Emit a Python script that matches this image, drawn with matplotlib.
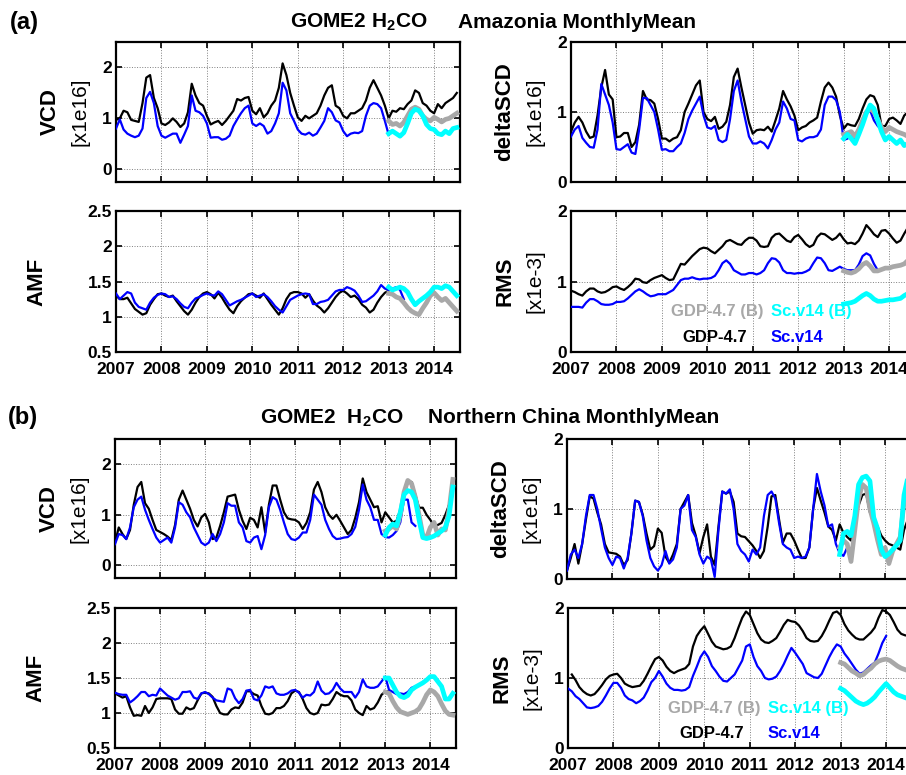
"""GOME2 H2CO monthly means, Amazonia and Northern China: GDP-4.7 vs Sc.v14."""
import numpy as np
import matplotlib; matplotlib.use('Agg')
import matplotlib.pyplot as plt
from matplotlib.ticker import FormatStrFormatter

plt.rcParams['font.family'] = ['Liberation Sans', 'DejaVu Sans']
plt.rcParams['font.weight'] = 'bold'
plt.rcParams['mathtext.fontset'] = 'custom'
plt.rcParams['mathtext.rm'] = 'Liberation Sans'
plt.rcParams['mathtext.bf'] = 'Liberation Sans:bold'

years = list(range(2007, 2015))
B0 = 72  # (B) series start in Jan 2013

# ---------------- (a) Amazonia ----------------
a_vcd_gdp = [0.97, 1.0, 1.15, 1.12, 0.97, 0.95, 0.93, 1.3, 1.8, 1.85,
             1.4, 1.2, 0.9, 0.87, 0.92, 1.0, 0.93, 0.83, 0.9, 1.12,
             1.68, 1.45, 1.3, 1.25, 1.05, 0.88, 0.92, 0.95, 0.87, 0.95,
             1.05, 1.15, 1.38, 1.35, 1.4, 1.42, 1.15, 1.08, 1.2, 1.02,
             1.1, 1.25, 1.35, 1.6, 2.08, 1.85, 1.5, 1.25, 1.02, 0.95,
             1.05, 1.0, 1.05, 1.1, 1.25, 1.45, 1.6, 1.65, 1.25, 1.2,
             1.05, 1.0, 1.1, 1.1, 1.15, 1.2, 1.35, 1.6, 1.75, 1.6,
             1.45, 1.25, 1.0, 1.15, 1.13, 1.2, 1.18, 1.28, 1.35, 1.55,
             1.5, 1.3, 1.25, 1.15, 1.1, 1.28, 1.2, 1.3, 1.35, 1.4, 1.5]
a_vcd_sc = [0.8, 0.98, 0.78, 0.7, 0.66, 0.63, 0.66, 0.8, 1.4, 1.52,
            1.3, 0.85, 0.66, 0.62, 0.66, 0.7, 0.7, 0.52, 0.68, 0.85,
            1.45, 1.15, 1.12, 1.05, 0.9, 0.62, 0.63, 0.63, 0.58, 0.6,
            0.66, 0.85, 0.98, 1.1, 1.2, 1.25, 0.9, 0.85, 0.9, 0.85,
            0.7, 0.75, 0.9, 1.1, 1.7, 1.55, 1.1, 0.95, 0.78, 0.7,
            0.68, 0.72, 0.66, 0.7, 0.82, 0.95, 1.2, 1.12, 0.96, 0.92,
            0.75, 0.65, 0.7, 0.72, 0.71, 0.75, 1.05, 1.25, 1.3, 1.28,
            1.2, 0.95, 0.68]
a_vcd_gdp_b = [0.95, 0.88, 0.9, 0.85, 0.92, 1.05, 1.18, 1.22, 1.18, 1.05,
               0.98, 0.95, 1.02, 0.98, 0.93, 0.98, 1.0, 1.05, 1.1]
a_vcd_sc_b = [0.7, 0.75, 0.7, 0.65, 0.72, 0.9, 1.1, 1.18, 1.15, 1.05,
              0.88, 0.8, 0.78, 0.7, 0.68, 0.75, 0.7, 0.8, 0.82]

a_dscd_gdp = [0.72, 0.85, 0.93, 0.85, 0.72, 0.63, 0.65, 0.95, 1.35, 1.6,
              1.25, 1.18, 0.64, 0.65, 0.7, 0.7, 0.5, 0.57, 0.82, 1.3,
              1.18, 1.17, 1.12, 0.9, 0.62, 0.62, 0.58, 0.62, 0.64, 0.74,
              1.0, 1.12, 1.25, 1.38, 1.45, 1.0, 0.9, 0.87, 0.93, 0.76,
              0.79, 0.86, 1.1, 1.5, 1.62, 1.35, 1.1, 0.85, 0.69, 0.74,
              0.75, 0.74, 0.79, 0.72, 0.88, 1.05, 1.3, 1.18, 1.08, 0.95,
              0.74, 0.78, 0.8, 0.85, 0.88, 0.92, 1.15, 1.35, 1.42, 1.35,
              1.22, 0.95, 0.76, 0.83, 0.81, 0.8, 0.9, 1.05, 1.18, 1.24,
              1.22, 1.1, 0.8, 0.8, 0.9, 0.92, 0.88, 0.83, 0.95, 1.0, 0.95]
a_dscd_sc = [0.65, 0.75, 0.8, 0.63, 0.56, 0.5, 0.49, 0.75, 1.4, 1.25,
             1.1, 0.85, 0.47, 0.46, 0.5, 0.54, 0.42, 0.4, 0.75, 1.2,
             1.2, 1.1, 1.0, 0.75, 0.46, 0.47, 0.44, 0.44, 0.5, 0.55,
             0.7, 0.9, 1.02, 1.12, 1.22, 0.95, 0.78, 0.76, 0.8, 0.6,
             0.57, 0.6, 0.9, 1.3, 1.45, 1.15, 0.9, 0.65, 0.55, 0.55,
             0.58, 0.55, 0.48, 0.6, 0.75, 0.85, 1.15, 1.05, 0.9, 0.88,
             0.6, 0.58, 0.62, 0.64, 0.64, 0.66, 0.75, 1.1, 1.22, 1.22,
             1.17, 1.0, 0.6, 0.62, 0.65, 0.6, 0.72, 0.85, 0.98, 1.02,
             0.88, 0.8]
a_dscd_gdp_b = [0.68, 0.7, 0.72, 0.65, 0.75, 0.88, 1.0, 1.05, 1.0, 0.9,
                0.78, 0.72, 0.78, 0.75, 0.72, 0.7, 0.68, 0.65, 0.62]
a_dscd_sc_b = [0.62, 0.68, 0.62, 0.55, 0.68, 0.82, 0.98, 1.1, 1.05, 0.88,
               0.72, 0.6, 0.65, 0.6, 0.55, 0.6, 0.52, 0.55, 0.55]

a_amf_gdp = [1.3, 1.25, 1.25, 1.27, 1.19, 1.11, 1.07, 1.03, 1.05, 1.17,
             1.25, 1.32, 1.33, 1.3, 1.28, 1.3, 1.22, 1.15, 1.08, 1.03,
             1.1, 1.2, 1.28, 1.33, 1.35, 1.32, 1.26, 1.34, 1.27, 1.18,
             1.1, 1.05, 1.15, 1.22, 1.27, 1.32, 1.33, 1.3, 1.27, 1.33,
             1.25, 1.17, 1.1, 1.03, 1.12, 1.25, 1.33, 1.35, 1.35, 1.33,
             1.27, 1.32, 1.23, 1.16, 1.12, 1.06, 1.12, 1.2, 1.28, 1.34,
             1.37, 1.33, 1.28, 1.3, 1.25, 1.17, 1.13, 1.06, 1.1, 1.2,
             1.28, 1.34, 1.37]
a_amf_sc = [1.33, 1.25, 1.3, 1.35, 1.33, 1.2, 1.14, 1.12, 1.1, 1.2,
            1.27, 1.31, 1.33, 1.32, 1.28, 1.29, 1.25, 1.19, 1.14, 1.12,
            1.2, 1.26, 1.28, 1.31, 1.33, 1.31, 1.3, 1.36, 1.32, 1.24,
            1.16, 1.19, 1.22, 1.24, 1.27, 1.3, 1.33, 1.28, 1.3, 1.32,
            1.28, 1.22, 1.15, 1.1, 1.06, 1.15, 1.24, 1.27, 1.3, 1.32,
            1.33, 1.32, 1.18, 1.18, 1.21, 1.22, 1.24, 1.3, 1.36, 1.38,
            1.38, 1.42, 1.4, 1.37, 1.3, 1.21, 1.22, 1.26, 1.3, 1.36,
            1.45, 1.4, 1.38, 1.4, 1.42, 1.38, 1.25]
a_amf_gdp_b = [1.33, 1.32, 1.28, 1.26, 1.2, 1.13, 1.08, 1.05, 1.03, 1.12,
               1.2, 1.3, 1.34, 1.28, 1.23, 1.26, 1.2, 1.14, 1.08]
a_amf_sc_b = [1.42, 1.38, 1.4, 1.42, 1.4, 1.35, 1.25, 1.17, 1.22, 1.26,
              1.3, 1.35, 1.42, 1.42, 1.4, 1.44, 1.42, 1.36, 1.3]

a_rms_gdp = [0.87, 0.85, 0.82, 0.8, 0.86, 0.9, 0.9, 0.86, 0.84, 0.85,
             0.88, 0.92, 0.93, 0.9, 0.88, 0.92, 0.97, 1.04, 1.03, 0.99,
             0.98, 1.02, 1.05, 1.07, 1.09, 1.05, 1.02, 1.03, 1.14, 1.25,
             1.24, 1.3, 1.36, 1.41, 1.46, 1.48, 1.47, 1.43, 1.4, 1.45,
             1.5, 1.57, 1.59, 1.56, 1.53, 1.52, 1.58, 1.62, 1.62, 1.58,
             1.5, 1.49, 1.5, 1.62, 1.67, 1.68, 1.63, 1.58, 1.56, 1.63,
             1.66, 1.6, 1.53, 1.49, 1.52, 1.63, 1.68, 1.67, 1.63, 1.59,
             1.62, 1.68, 1.6, 1.54, 1.55, 1.53, 1.58, 1.68, 1.8, 1.74,
             1.67, 1.63, 1.72, 1.73, 1.68, 1.61, 1.55, 1.58, 1.68, 1.77, 1.8]
a_rms_sc = [0.64, 0.64, 0.64, 0.63, 0.7, 0.75, 0.75, 0.72, 0.68, 0.67,
            0.67, 0.68, 0.71, 0.71, 0.72, 0.76, 0.81, 0.86, 0.89, 0.86,
            0.82, 0.79, 0.8, 0.82, 0.82, 0.82, 0.85, 0.88, 0.95, 1.02,
            1.04, 1.04, 1.06, 1.04, 1.03, 1.04, 1.04, 1.05, 1.08, 1.16,
            1.26, 1.3, 1.25, 1.16, 1.13, 1.1, 1.1, 1.12, 1.12, 1.1,
            1.12, 1.16, 1.26, 1.33, 1.32, 1.27, 1.16, 1.12, 1.12, 1.11,
            1.12, 1.12, 1.14, 1.17, 1.26, 1.34, 1.33, 1.26, 1.16, 1.15,
            1.18, 1.21, 1.18, 1.16, 1.16, 1.16, 1.24, 1.36, 1.4, 1.37,
            1.25, 1.16]
a_rms_gdp_b = [1.15, 1.13, 1.12, 1.14, 1.18, 1.24, 1.27, 1.22, 1.15, 1.15,
               1.17, 1.19, 1.19, 1.21, 1.22, 1.23, 1.25, 1.3, 1.32]
a_rms_sc_b = [0.68, 0.69, 0.7, 0.72, 0.76, 0.8, 0.83, 0.8, 0.75, 0.72,
              0.72, 0.73, 0.74, 0.74, 0.75, 0.76, 0.8, 0.83, 0.86]

# ---------------- (b) Northern China ----------------
b_vcd_gdp = [0.45, 0.75, 0.62, 0.52, 0.7, 1.2, 1.55, 1.65, 1.23, 1.12,
             0.9, 0.7, 0.66, 0.62, 0.57, 0.5, 0.8, 1.3, 1.48, 1.3,
             1.12, 0.9, 0.77, 0.95, 1.02, 0.85, 0.52, 0.55, 0.78, 1.05,
             1.36, 1.38, 1.4, 1.1, 0.88, 0.72, 0.94, 0.9, 0.75, 1.15,
             0.65, 1.2, 1.58, 1.58, 1.3, 1.05, 0.93, 0.91, 0.9, 0.85,
             0.72, 0.84, 1.05, 1.5, 1.65, 1.45, 1.15, 1.0, 0.92, 1.0,
             0.88, 0.75, 0.62, 0.7, 0.94, 1.25, 1.72, 1.45, 1.3, 1.15,
             1.17, 0.85, 1.05, 0.95, 0.85, 0.88, 1.1, 1.4, 1.65, 1.65,
             1.4, 1.14, 1.14, 1.0, 0.9, 0.78, 0.8, 0.84, 1.0, 1.2, 1.6]
b_vcd_sc = [0.42, 0.62, 0.6, 0.52, 0.75, 1.15, 1.3, 1.36, 1.1, 0.9,
            0.72, 0.55, 0.45, 0.5, 0.55, 0.45, 0.75, 1.25, 1.2, 1.05,
            0.95, 0.75, 0.6, 0.45, 0.4, 0.45, 0.62, 0.48, 0.62, 0.85,
            1.23, 1.18, 1.18, 0.85, 0.75, 0.48, 0.45, 0.55, 0.58, 0.32,
            0.6, 1.15, 1.35, 1.3, 1.1, 0.85, 0.62, 0.52, 0.5, 0.55,
            0.65, 0.65, 0.9, 1.4, 1.3, 1.2, 0.9, 0.72, 0.58, 0.52,
            0.53, 0.55, 0.56, 0.62, 0.76, 1.1, 1.6, 1.3, 1.15, 0.9,
            0.9, 0.62, 0.56, 0.55, 0.6, 0.68, 0.85, 1.3, 1.3, 0.85,
            0.78]
b_vcd_gdp_b = [0.68, 0.72, 0.78, 0.72, 1.0, 1.45, 1.68, 1.62, 1.35, 1.0,
               0.6, 0.55, 0.75, 0.85, 0.6, 0.72, 0.7, 1.1, 1.7]
b_vcd_sc_b = [0.6, 0.75, 0.82, 0.78, 1.05, 1.4, 1.48, 1.45, 1.3, 0.9,
              0.55, 0.53, 0.55, 0.58, 0.63, 0.68, 0.75, 0.98, 1.55]

b_dscd_gdp = [0.12, 0.3, 0.5, 0.22, 0.5, 0.85, 1.18, 1.15, 0.95, 0.78,
              0.5, 0.38, 0.37, 0.36, 0.32, 0.2, 0.27, 0.65, 1.12, 1.1,
              0.92, 0.65, 0.42, 0.47, 0.72, 0.66, 0.32, 0.23, 0.35, 0.5,
              1.0, 1.1, 1.2, 0.8, 0.62, 0.37, 0.6, 0.78, 0.32, 0.2,
              0.75, 1.25, 1.22, 1.25, 1.1, 0.65, 0.61, 0.6, 0.54, 0.48,
              0.4, 0.3, 0.4, 0.75, 1.18, 1.2, 0.85, 0.52, 0.65, 0.65,
              0.55, 0.42, 0.3, 0.3, 0.45, 1.0, 1.3, 1.12, 0.95, 0.75,
              0.7, 0.55, 0.78, 0.66, 0.6, 0.55, 0.88, 1.05, 1.2, 1.22,
              0.95, 0.85, 0.75, 0.62, 0.55, 0.5, 0.48, 0.45, 0.42, 0.7, 0.85]
b_dscd_sc = [0.12, 0.35, 0.42, 0.3, 0.5, 0.9, 1.2, 1.2, 1.0, 0.72,
             0.45, 0.3, 0.2, 0.32, 0.3, 0.15, 0.3, 0.65, 1.12, 1.1,
             0.9, 0.55, 0.3, 0.18, 0.12, 0.2, 0.4, 0.22, 0.28, 0.45,
             1.0, 1.05, 1.2, 0.7, 0.6, 0.35, 0.22, 0.32, 0.28, 0.03,
             0.7, 1.25, 1.22, 1.28, 1.0, 0.5, 0.4, 0.35, 0.25, 0.42,
             0.35, 0.45, 0.9, 1.2, 1.25, 1.15, 0.8, 0.5, 0.45, 0.42,
             0.3, 0.32, 0.3, 0.32, 0.45, 1.0, 1.5, 1.25, 1.05, 0.75,
             0.78, 0.5, 0.37, 0.33, 0.45]
b_dscd_gdp_b = [0.45, 0.55, 0.5, 0.25, 0.7, 1.15, 1.35, 1.3, 1.0, 0.8,
                0.56, 0.35, 0.45, 0.22, 0.4, 0.5, 0.6, 1.1, 1.4]
b_dscd_sc_b = [0.35, 0.65, 0.68, 0.62, 0.9, 1.35, 1.45, 1.47, 1.4, 0.88,
               0.72, 0.42, 0.32, 0.36, 0.42, 0.48, 0.55, 1.2, 1.45]

b_amf_gdp = [1.28, 1.25, 1.22, 1.24, 1.08, 0.96, 0.97, 0.96, 1.1, 1.0,
             1.08, 1.2, 1.21, 1.21, 1.21, 1.2, 1.05, 0.99, 0.99, 1.08,
             1.05, 1.07, 1.18, 1.28, 1.29, 1.28, 1.23, 1.1, 1.0, 0.98,
             0.98, 1.05, 1.08, 1.07, 1.15, 1.31, 1.31, 1.27, 1.25, 1.1,
             0.99, 0.98, 1.0, 1.07, 1.07, 1.1, 1.17, 1.28, 1.32, 1.3,
             1.2, 1.07, 1.0, 0.98, 1.0, 1.12, 1.11, 1.12, 1.2, 1.3,
             1.26, 1.24, 1.24, 1.18, 1.05, 1.0, 0.97, 1.1, 1.05, 1.07,
             1.15, 1.26, 1.31, 1.31]
b_amf_sc = [1.29, 1.27, 1.26, 1.26, 1.15, 1.19, 1.24, 1.3, 1.3, 1.24,
            1.26, 1.25, 1.35, 1.3, 1.25, 1.22, 1.19, 1.21, 1.3, 1.3,
            1.31, 1.22, 1.2, 1.28, 1.3, 1.27, 1.22, 1.18, 1.17, 1.16,
            1.35, 1.33, 1.21, 1.14, 1.2, 1.32, 1.33, 1.2, 1.18, 1.25,
            1.38, 1.36, 1.38, 1.28, 1.26, 1.26, 1.28, 1.32, 1.33, 1.29,
            1.22, 1.26, 1.25, 1.3, 1.45, 1.32, 1.27, 1.28, 1.33, 1.43,
            1.35, 1.3, 1.3, 1.3, 1.22, 1.3, 1.48, 1.38, 1.36, 1.36,
            1.38, 1.45, 1.52, 1.33, 1.3, 1.27, 1.28, 1.27, 1.3, 1.36,
            1.38]
b_amf_gdp_b = [1.3, 1.28, 1.17, 1.08, 1.02, 1.0, 0.98, 1.0, 1.02, 1.06,
               1.15, 1.26, 1.33, 1.3, 1.24, 1.13, 1.03, 0.98, 0.97]
b_amf_sc_b = [1.5, 1.5, 1.4, 1.3, 1.24, 1.22, 1.25, 1.33, 1.37, 1.4,
              1.43, 1.47, 1.52, 1.52, 1.45, 1.38, 1.2, 1.2, 1.28]

b_rms_gdp = [np.nan, 1.05, 0.97, 0.87, 0.81, 0.77, 0.75, 0.77, 0.83, 0.9,
             0.98, 1.03, 1.05, 1.06, 1.0, 0.92, 0.89, 0.87, 0.88, 0.89,
             0.96, 1.06, 1.17, 1.27, 1.3, 1.25, 1.16, 1.1, 1.07, 1.1,
             1.12, 1.14, 1.2, 1.45, 1.6, 1.68, 1.74, 1.63, 1.52, 1.45,
             1.43, 1.41, 1.42, 1.45, 1.57, 1.72, 1.86, 1.95, 1.9, 1.77,
             1.64, 1.55, 1.51, 1.5, 1.53, 1.57, 1.66, 1.76, 1.83, 1.81,
             1.8, 1.75, 1.67, 1.57, 1.53, 1.52, 1.53, 1.6, 1.7, 1.82,
             1.93, 1.95, 1.9, 1.77, 1.68, 1.62, 1.57, 1.55, 1.55, 1.6,
             1.65, 1.72, 1.86, 1.97, 1.95, 1.9, 1.8, 1.69, 1.63, 1.61, 1.6]
b_rms_sc = [0.85, 0.81, 0.74, 0.7, 0.64, 0.58, 0.57, 0.58, 0.6, 0.66,
            0.75, 0.85, 0.93, 0.93, 0.86, 0.75, 0.7, 0.68, 0.64, 0.67,
            0.72, 0.82, 0.94, 1.0, 1.1, 1.02, 0.92, 0.86, 0.83, 0.83,
            0.82, 0.83, 0.87, 1.03, 1.16, 1.3, 1.38, 1.3, 1.17, 1.1,
            1.02, 0.96, 0.95, 1.0, 1.05, 1.15, 1.25, 1.45, 1.48, 1.3,
            1.17, 1.1, 1.0, 0.98, 0.99, 1.02, 1.1, 1.2, 1.32, 1.43,
            1.36, 1.28, 1.2, 1.07, 1.04, 1.01, 1.0, 1.06, 1.18, 1.3,
            1.4, 1.48, 1.45, 1.35, 1.28, 1.2, 1.12, 1.06, 1.08, 1.13,
            1.18, 1.22, 1.35, 1.5, 1.6]
b_rms_gdp_b = [1.22, 1.2, 1.15, 1.1, 1.07, 1.03, 1.05, 1.1, 1.14, 1.2,
               1.24, 1.26, 1.27, 1.25, 1.21, 1.17, 1.14, 1.12, 1.1]
b_rms_sc_b = [0.85, 0.82, 0.77, 0.72, 0.67, 0.64, 0.62, 0.64, 0.68, 0.73,
              0.8, 0.86, 0.92, 0.86, 0.8, 0.76, 0.74, 0.72, 0.7]

BLUE, GREY, CYAN = '#0000ff', '#a8a8a8', '#00ffff'
W, H = 906, 775


def months(n, start=0):
    return 2007 + (start + np.arange(n)) / 12.0


def panel(rect, gdp, sc, gdp_b, sc_b, ylim, yticks, xlab):
    ax = fig.add_axes(rect)
    ax.plot(months(len(gdp)), gdp, color='k', lw=1.6, zorder=3)
    ax.plot(months(len(sc)), sc, color=BLUE, lw=1.6, zorder=3)
    ax.plot(months(len(gdp_b), B0), gdp_b, color=GREY, lw=3.4, zorder=4)
    ax.plot(months(len(sc_b), B0), sc_b, color=CYAN, lw=3.4, zorder=5)
    ax.set_xlim(2007, 2014.57)
    ax.set_ylim(*ylim)
    ax.set_xticks(years)
    ax.set_yticks(yticks)
    ax.yaxis.set_major_formatter(FormatStrFormatter('%g'))
    if not xlab:
        ax.set_xticklabels([])
    ax.grid(True, ls=':', color='#7f7f7f', lw=0.7)
    ax.tick_params(direction='in', top=True, right=True, length=4, width=1.2,
                   labelsize=12.5)
    ax.tick_params(axis='x', pad=7)
    ax.tick_params(axis='y', pad=3)
    for s in ax.spines.values():
        s.set_linewidth(1.6)
    return ax


def ylab(ax, top, unit=None):
    p = ax.get_position()
    cy = p.y0 + p.height / 2
    if unit is None:
        fig.text(p.x0 - 79 / W, cy, top, rotation=90, ha='center', va='center',
                 fontsize=16, fontweight='bold')
    else:
        fig.text(p.x0 - 66 / W, cy, top, rotation=90, ha='center', va='center',
                 fontsize=16, fontweight='bold')
        fig.text(p.x0 - 36 / W, cy, unit, rotation=90, ha='center', va='center',
                 fontsize=15, fontweight='normal')


def legend_txt(ax):
    kw = dict(transform=ax.transAxes, fontsize=12, fontweight='bold',
              ha='left', va='center')
    ax.text(0.29, 0.285, 'GDP-4.7 (B)', color=GREY, **kw)
    ax.text(0.581, 0.285, 'Sc.v14 (B)', color=CYAN, **kw)
    ax.text(0.323, 0.103, 'GDP-4.7', color='k', **kw)
    ax.text(0.581, 0.103, 'Sc.v14', color=BLUE, **kw)


fig = plt.figure(figsize=(W / 100, H / 100), dpi=100)

# (a)
ax = panel([116 / W, 1 - 182 / H, 344 / W, 140 / H], a_vcd_gdp, a_vcd_sc,
           a_vcd_gdp_b, a_vcd_sc_b, (-0.25, 2.5), [0, 1, 2], False)
ylab(ax, 'VCD', '[x1e16]')
ax = panel([571 / W, 1 - 182 / H, 344 / W, 140 / H], a_dscd_gdp, a_dscd_sc,
           a_dscd_gdp_b, a_dscd_sc_b, (0, 2), [0, 1, 2], False)
ylab(ax, 'deltaSCD', '[x1e16]')
ax = panel([116 / W, 1 - 352 / H, 344 / W, 141 / H], a_amf_gdp, a_amf_sc,
           a_amf_gdp_b, a_amf_sc_b, (0.5, 2.5), [0.5, 1, 1.5, 2, 2.5], True)
ylab(ax, 'AMF')
ax = panel([571 / W, 1 - 352 / H, 344 / W, 141 / H], a_rms_gdp, a_rms_sc,
           a_rms_gdp_b, a_rms_sc_b, (0, 2), [0, 1, 2], True)
ylab(ax, 'RMS', '[x1e-3]')
legend_txt(ax)

# (b)
ax = panel([115 / W, 1 - 578 / H, 341 / W, 139 / H], b_vcd_gdp, b_vcd_sc,
           b_vcd_gdp_b, b_vcd_sc_b, (-0.25, 2.5), [0, 1, 2], False)
ylab(ax, 'VCD', '[x1e16]')
ax = panel([567 / W, 1 - 579 / H, 344 / W, 140 / H], b_dscd_gdp, b_dscd_sc,
           b_dscd_gdp_b, b_dscd_sc_b, (0, 2), [0, 1, 2], False)
ylab(ax, 'deltaSCD', '[x1e16]')
ax = panel([115 / W, 1 - 748 / H, 341 / W, 140 / H], b_amf_gdp, b_amf_sc,
           b_amf_gdp_b, b_amf_sc_b, (0.5, 2.5), [0.5, 1, 1.5, 2, 2.5], True)
ylab(ax, 'AMF')
ax = panel([568 / W, 1 - 748 / H, 344 / W, 140 / H], b_rms_gdp, b_rms_sc,
           b_rms_gdp_b, b_rms_sc_b, (0, 2), [0, 1, 2], True)
ylab(ax, 'RMS', '[x1e-3]')
legend_txt(ax)

# headings
fig.text(10 / W, 1 - 22 / H, '(a)', fontsize=17, fontweight='bold', va='center')
fig.text(290 / W, 1 - 22 / H, r'GOME2 H$_\mathbf{2}$CO', fontsize=15,
         fontweight='bold', va='center')
fig.text(458 / W, 1 - 22 / H, 'Amazonia MonthlyMean', fontsize=15,
         fontweight='bold', va='center')
fig.text(8 / W, 1 - 418 / H, '(b)', fontsize=17, fontweight='bold', va='center')
fig.text(260 / W, 1 - 418 / H, r'GOME2  H$_\mathbf{2}$CO', fontsize=15,
         fontweight='bold', va='center')
fig.text(428 / W, 1 - 418 / H, 'Northern China MonthlyMean', fontsize=15,
         fontweight='bold', va='center')

fig.savefig('out.png', dpi=100)
print('Saved out.png')
